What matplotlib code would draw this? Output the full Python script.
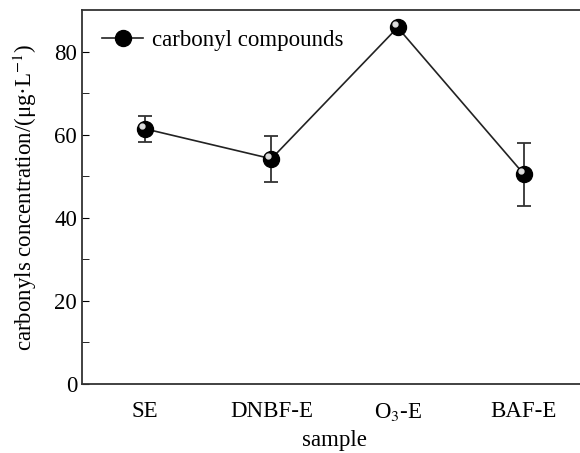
import numpy as np
import matplotlib.pyplot as plt
import matplotlib.transforms as mtransforms

plt.rcParams['font.family'] = ['Liberation Serif', 'DejaVu Serif']
plt.rcParams['mathtext.fontset'] = 'stix'

# Data
samples = ['SE', 'DNBF-E', 'O$_3$-E', 'BAF-E']
concentration = [61.4, 54.2, 85.8, 50.5]
error = [3.1, 5.5, 0.6, 7.6]

x = np.arange(len(samples))

fig = plt.figure(figsize=(5.8, 4.53), dpi=100)
ax = fig.add_axes([82 / 580, 1 - 384 / 453, 505 / 580, 374 / 453])

ax.errorbar(x, concentration, yerr=error, fmt='none', ecolor='#333333',
            elinewidth=1.3, capsize=5, capthick=1.3, zorder=2)
ax.plot(x, concentration, color='#222222', lw=1.2, marker='o',
        markersize=11.5, markerfacecolor='black', markeredgecolor='black',
        label='carbonyl compounds', zorder=3)

# small highlight on the spheres
offset = mtransforms.ScaledTranslation(-2.2 / 72, 2.2 / 72, fig.dpi_scale_trans)
ax.plot(x, concentration, 'o', color='#dddddd', markersize=3.5,
        transform=ax.transData + offset, zorder=4)

ax.set_xlim(-0.5, 3.5)
ax.set_ylim(0, 90)
ax.set_yticks([0, 20, 40, 60, 80])
ax.set_yticks([10, 30, 50, 70], minor=True)
ax.set_xticks(x)
ax.set_xticklabels(samples)
ax.tick_params(axis='y', which='both', direction='in', length=5, labelsize=16.5)
ax.tick_params(axis='x', length=0, labelsize=16.5, pad=12)

for s in ax.spines.values():
    s.set_linewidth(1.3)
    s.set_color('#333333')

ax.set_xlabel('sample', fontsize=16.5, labelpad=5)
ax.set_ylabel('carbonyls concentration/(μg·L$^{-1}$)', fontsize=16.5, labelpad=11)

ax.legend(loc='upper left', bbox_to_anchor=(0.008, 0.99), frameon=False,
          fontsize=16.5, handlelength=1.8, handletextpad=0.4, borderaxespad=0.3)

fig.savefig('out.png', dpi=100)
